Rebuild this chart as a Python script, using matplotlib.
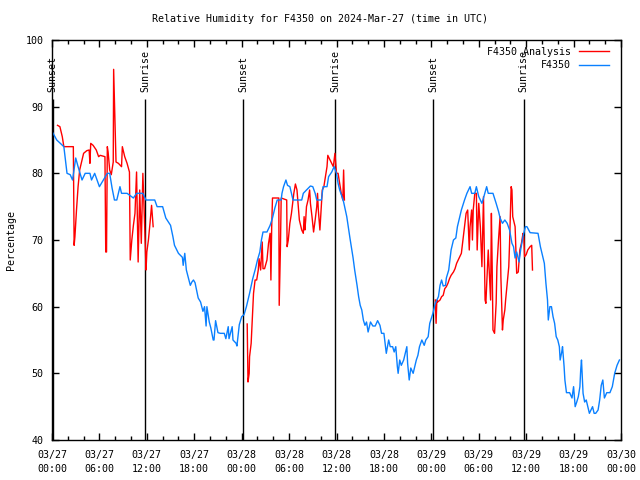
import numpy as np
import matplotlib
matplotlib.use('Agg')
import matplotlib.pyplot as plt

# hours since 03/27 00:00 UTC
obs_hours = [
    0.0, 0.6, 1.5, 1.9, 2.3, 2.6, 3.0, 3.3, 3.8, 4.2, 4.8, 5.0, 5.4, 6.0, 6.5,
    7.0, 7.3, 7.6, 7.9, 8.2, 8.6, 8.8, 9.5, 10.3, 10.7, 11.5, 11.9, 12.2, 13.0,
    13.3, 14.0, 14.4, 15.0, 15.3, 15.5, 16.0, 16.5, 16.6, 16.8, 17.0, 17.5,
    17.7, 17.9, 18.1, 18.5, 18.8, 19.1, 19.3, 19.5, 19.6, 19.9, 20.1, 20.4,
    20.5, 20.7, 21.0, 21.3, 21.8, 22.0, 22.3, 22.4, 22.8, 22.9, 23.3, 23.4,
    23.7, 24.0, 24.3, 24.6, 25.0, 25.4, 25.7, 26.0, 26.3, 26.5, 26.7, 27.2,
    27.6, 27.9, 28.2, 28.5, 29.0, 29.1, 29.3, 29.6, 29.8, 30.1, 30.3, 30.5,
    31.6, 31.8, 32.2, 32.7, 33.0, 33.3, 33.5, 34.1, 34.3, 34.8, 35.0, 35.4,
    35.7, 36.0, 36.2, 36.4, 36.7, 36.9, 37.3, 37.7, 38.1, 38.3, 38.6, 38.8,
    39.0, 39.2, 39.4, 39.6, 39.8, 40.0, 40.3, 40.6, 40.9, 41.2, 41.5, 41.7,
    42.0, 42.2, 42.3, 42.6, 42.8, 43.1, 43.3, 43.5, 43.7, 43.8, 44.0, 44.2,
    44.5, 44.7, 44.9, 45.0, 45.2, 45.4, 45.7, 45.9, 46.1, 46.3, 46.5, 46.8,
    47.1, 47.3, 47.6, 47.8, 48.2, 48.5, 48.9, 49.1, 49.3, 49.5, 49.8, 49.9,
    50.2, 50.5, 50.8, 51.1, 51.3, 51.6, 51.8, 52.2, 52.5, 52.9, 53.1, 53.5,
    53.7, 54.0, 54.4, 54.6, 55.0, 55.2, 55.8, 56.2, 56.5, 56.7, 57.0, 57.3,
    57.6, 57.9, 58.2, 58.4, 58.6, 58.8, 59.1, 59.3, 59.6, 59.9, 60.1, 60.5,
    61.5, 61.8, 62.0, 62.3, 62.5, 62.7, 62.8, 63.0, 63.2, 63.4, 63.6, 63.8,
    64.0, 64.2, 64.3, 64.5, 64.6, 64.8, 64.9, 65.1, 65.5, 65.8, 66.0, 66.2,
    66.4, 66.6, 66.8, 66.9, 67.0, 67.2, 67.4, 67.6, 67.8, 68.0, 68.2, 68.4,
    68.6, 68.8, 69.1, 69.3, 69.5, 69.7, 69.9, 70.2, 70.6, 70.9, 71.2, 71.5,
    71.8,
]
obs_rh = [
    86.3, 85, 84, 80, 79.8, 79, 82.3, 81, 79, 80, 80, 79, 80, 78, 79,
    80, 80, 77.8, 76, 76, 78, 77, 77, 76.3, 77, 77, 76, 76, 76,
    75, 75, 73.3, 72.2, 70.5, 69.2, 68, 67.4, 66.2, 68, 65.5, 63.2,
    63.7, 64, 63.6, 61.3, 60.7, 59.3, 60, 57.1, 60, 57.7, 56.8, 55,
    55, 57.9, 56.1, 56, 56, 55.2, 57, 55.2, 57, 55, 54.5, 54.1,
    57.3, 58.5, 58.8, 60, 62, 64.2, 65.5, 67, 68.2, 70, 71.2, 71.2,
    72.2, 73.3, 74.8, 76, 76, 77, 78, 79, 78.2, 78, 77, 76,
    76, 77, 77.5, 78.1, 78, 77, 76, 76, 78, 78, 79.5, 80.2,
    81, 80, 78.5, 77.5, 76.5, 75.7, 73.5, 70.3, 67.3, 65.5, 63.2, 61.5,
    60.2, 59.5, 58, 57.2, 57.7, 56.2, 57.7, 57.1, 57.1, 57.9, 57.2, 56,
    56, 54, 53, 55, 54, 54, 53.2, 54, 51, 50, 52, 51.2,
    52, 53, 54, 51.5, 49, 50.8, 50, 51, 52, 52.7, 54, 55,
    54.2, 55, 55.5, 57.5, 59, 60.5, 61.5, 63.2, 64, 63.1, 63.2, 64.3,
    65.5, 68.5, 70, 70.3, 72, 73.5, 74.5, 76, 77, 78, 77, 77,
    78, 76.5, 75.5, 76.3, 78, 77, 77, 75.5, 74.3, 73.3, 72.5, 73,
    72.5, 71.5, 69.5, 69, 67.3, 68.2, 66.7, 68.5, 70.5, 72, 72, 71.1,
    71, 69, 68, 66.5, 63.5, 61, 58, 60, 60, 58.5, 57.5, 55.5,
    55, 54, 52, 53.2, 54, 51, 49, 47.1, 47.1, 46.3, 48, 45,
    45.7, 46.5, 48, 50.5, 52, 47, 45.7, 46, 45, 44, 44.5, 45,
    44, 44, 44.5, 46, 48.2, 49, 46.3, 47.1, 47.1, 48, 50, 51.2,
    52,
]

# analysis, three separate runs
ana_hours_1 = [
    0.7, 1.0, 1.3, 1.5, 2.7, 2.8, 2.9, 3.1, 3.3, 3.5, 3.8, 4.0, 4.4, 4.7, 4.8,
    4.9, 5.2, 5.6, 5.9, 6.1, 6.7, 6.8, 6.9, 7.0, 7.1, 7.3, 7.5, 7.75, 7.8,
    7.95, 8.1, 8.4, 8.8, 8.9, 9.2, 9.5, 9.8, 9.9, 10.1, 10.3, 10.5, 10.7,
    10.9, 11.1, 11.3, 11.5, 11.7, 11.9, 12.0, 12.2, 12.4, 12.6, 12.8,
]
ana_rh_1 = [
    87.2, 87, 85.5, 84, 84, 69.2, 70.5, 74.5, 78, 80.5, 82, 83, 83.4, 83.5, 81.5,
    84.5, 84.2, 83.5, 82.5, 82.7, 82.5, 68.2, 68.2, 84, 83.2, 80.5, 79.8, 81.7, 95.6,
    88.5, 81.7, 81.5, 81, 84, 82.5, 81.5, 80.2, 67, 70, 72.2, 74, 80.2,
    66.7, 77.5, 69.5, 80, 73, 65.5, 68.2, 70, 72.5, 75.2, 72,
]
ana_hours_2 = [
    24.7, 24.75, 24.8, 24.95, 25.0, 25.2, 25.4, 25.5, 25.7, 25.9, 26.1, 26.2,
    26.4, 26.6, 26.7, 26.9, 27.2, 27.4, 27.6, 27.7, 27.8, 27.9, 28.7, 28.75,
    28.9, 29.0, 29.7, 29.75, 29.9, 30.1, 30.3, 30.5, 30.6, 30.8, 31.0, 31.1,
    31.3, 31.6, 31.8, 31.9, 32.0, 32.1, 32.2, 32.4, 32.6, 32.7, 32.9, 33.1,
    33.3, 33.5, 33.6, 33.7, 33.9, 34.1, 34.2, 34.4, 34.6, 34.8, 34.9, 35.1,
    35.4, 35.6, 35.8, 36.0, 36.2, 36.4, 36.6, 36.8, 36.9, 37.0,
]
ana_rh_2 = [
    57.4, 53, 48.7, 50, 52.5, 54.5, 59.5, 62, 64, 64, 65.5, 67.2,
    65.5, 69.7, 65.7, 65.7, 67, 69.5, 71, 64, 72, 76.3, 76.3, 60.2,
    68.5, 76.3, 76, 69, 70, 72.5, 74, 76, 77, 78.4, 77.5, 76,
    73, 71.5, 71, 73.5, 71.5, 73, 75, 76, 77.5, 75.5, 73.5, 71.2,
    73, 75, 77, 74.5, 71.5, 75.5, 77.5, 78, 79.5, 81, 82.7, 82.2,
    81.5, 81, 83, 80, 80, 78.5, 77, 76, 80.5, 76,
]
ana_hours_3 = [
    48.5, 48.6, 48.7, 48.8, 49.1, 49.3, 49.5, 49.7, 49.9, 50.1, 50.3, 50.5,
    50.8, 51.0, 51.2, 51.4, 51.6, 51.8, 52.0, 52.2, 52.4, 52.6, 52.8, 52.9,
    53.1, 53.2, 53.3, 53.5, 53.7, 53.8, 54.0, 54.2, 54.4, 54.6, 54.8, 54.9,
    55.1, 55.2, 55.5, 55.6, 55.7, 55.8, 56.0, 56.2, 56.3, 56.5, 56.7, 56.8,
    57.0, 57.1, 57.3, 57.4, 57.6, 57.8, 57.9, 58.1, 58.2, 58.3, 58.6, 58.8,
    59.0, 59.2, 59.4, 59.6, 59.7, 59.8, 60.0, 60.2, 60.5, 60.7, 60.8,
]
ana_rh_3 = [
    61, 57.5, 61, 60.7, 61, 61.5, 61.7, 62.7, 63, 63.5, 64.2, 64.7,
    65.2, 65.7, 66.5, 67, 67.5, 68, 70, 72, 74, 74.5, 68.5, 72,
    74.5, 70, 74.5, 77, 77, 68.5, 75.5, 72, 66, 76.5, 61, 60.5,
    66, 68.5, 61, 74, 66, 56.5, 56, 60.5, 66, 70, 73.5, 64.5,
    56.5, 58, 59.5, 61, 63.5, 66, 69.5, 78, 77.5, 73.5, 72, 65,
    65.2, 68.5, 69.5, 71, 70.5, 67.5, 67.8, 68.5, 69, 69.2, 65.5,
]

sun_hours = [0.1, 11.8, 24.2, 35.85, 48.2, 59.7]
sun_names = ['Sunset', 'Sunrise', 'Sunset', 'Sunrise', 'Sunset', 'Sunrise']

tick_hours = list(range(0, 73, 6))
tick_labels = ['03/27\n00:00', '03/27\n06:00', '03/27\n12:00', '03/27\n18:00',
               '03/28\n00:00', '03/28\n06:00', '03/28\n12:00', '03/28\n18:00',
               '03/29\n00:00', '03/29\n06:00', '03/29\n12:00', '03/29\n18:00',
               '03/30\n00:00']

FS = 7.2
plt.rcParams['font.family'] = ['DejaVu Sans Mono']
plt.rcParams['font.size'] = FS

fig = plt.figure(figsize=(6.4, 4.8), dpi=100)
ax = fig.add_axes([52 / 640, 40 / 480, 569 / 640, 400 / 480])

ana_h = ana_hours_1 + [np.nan] + ana_hours_2 + [np.nan] + ana_hours_3
ana_v = ana_rh_1 + [np.nan] + ana_rh_2 + [np.nan] + ana_rh_3

ax.vlines(sun_hours, 40, 91.2, color='black', lw=1)
for h, name in zip(sun_hours, sun_names):
    ax.text(h, 92.2, name, rotation=90, ha='center', va='bottom', fontsize=FS)

ax.plot(ana_h, ana_v, color='#ff0000', lw=1, label='F4350 Analysis')
ax.plot(obs_hours, obs_rh, color='#0a80ff', lw=1, label='F4350')

ax.set_xlim(0, 72)
ax.set_ylim(40, 100)
ax.set_xticks(tick_hours)
ax.set_xticklabels(tick_labels)
ax.set_xticks(range(0, 73, 2), minor=True)
ax.set_yticks(range(40, 101, 10))
for lbl in ax.get_xticklabels():
    lbl.set_linespacing(1.4)
ax.tick_params(which='both', direction='in', top=True, right=True,
               labelsize=FS, width=1)
ax.tick_params(which='major', length=5, pad=6)
ax.tick_params(axis='x', which='major', pad=7.5)
ax.tick_params(which='minor', length=3)
for s in ax.spines.values():
    s.set_linewidth(1)

ax.legend(loc='upper right', bbox_to_anchor=(1 - 6 / 569, 1 - 1 / 400),
          frameon=False, markerfirst=False, fontsize=FS,
          handlelength=3, labelspacing=0.35, borderaxespad=0.2,
          handletextpad=0.8)

fig.text(0.5, 1 - 19 / 480, 'Relative Humidity for F4350 on 2024-Mar-27 (time in UTC)',
         ha='center', va='center', fontsize=FS)
fig.text(11 / 640, 0.5, 'Percentage', rotation=90, ha='center',
         va='center', fontsize=FS)

fig.savefig('out.png', dpi=100)
